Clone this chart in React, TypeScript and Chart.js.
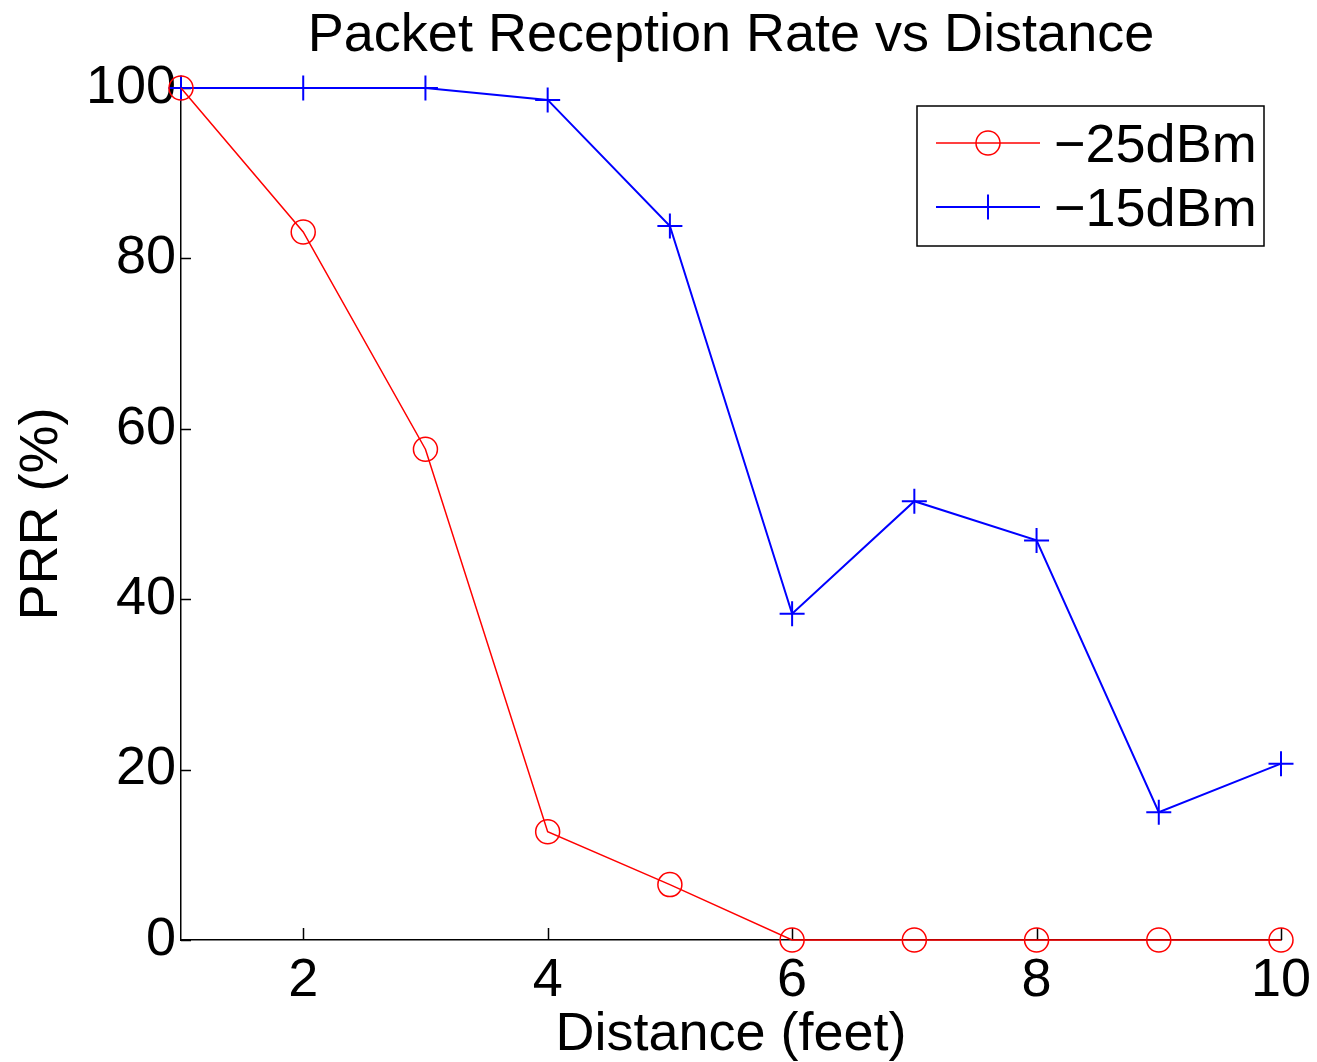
import { useEffect, useRef } from 'react';
import { Chart, registerables } from 'chart.js';

Chart.register(...registerables);

// Distance from the transmitter, in feet
const distances = [1, 2, 3, 4, 5, 6, 7, 8, 9, 10];
// Packet reception rate (%) at each transmit power
const prrMinus25 = [100, 83.1, 57.6, 12.7, 6.5, 0, 0, 0, 0, 0];
const prrMinus15 = [100, 100, 100, 98.6, 83.8, 38.3, 51.5, 46.9, 15.0, 20.7];
const seriesLabels = ['\u221225dBm', '\u221215dBm'];
const seriesColors = ['#ff0000', '#0000ff'];
const xTickValues = [2, 4, 6, 8, 10];
const yTickValues = [0, 20, 40, 60, 80, 100];

const FONT = '"Liberation Sans", Arial, Helvetica, sans-serif';
const FONT_SIZE = 54;

// Inward-pointing tick marks on the left and bottom axes
const innerTicks = {
  id: 'innerTicks',
  beforeDatasetsDraw(chart: any) {
    const { ctx, chartArea, scales } = chart;
    const x = scales.x;
    const y = scales.y;
    ctx.save();
    ctx.strokeStyle = '#000';
    ctx.lineWidth = 1.5;
    ctx.beginPath();
    x.ticks.forEach((t: any) => {
      const px = Math.round(x.getPixelForValue(t.value)) + 0.5;
      ctx.moveTo(px, chartArea.bottom);
      ctx.lineTo(px, chartArea.bottom - 12);
    });
    y.ticks.forEach((t: any) => {
      const py = Math.round(y.getPixelForValue(t.value)) + 0.5;
      ctx.moveTo(chartArea.left, py);
      ctx.lineTo(chartArea.left + 10, py);
    });
    ctx.stroke();
    ctx.restore();
  },
};

// Boxed legend with a line sample and its marker, top-right of the plot
const boxedLegend = {
  id: 'boxedLegend',
  afterDatasetsDraw(chart: any) {
    const { ctx, chartArea } = chart;
    const boxW = 347;
    const boxH = 140;
    const right = chartArea.right - 17;
    const left = right - boxW;
    const top = chartArea.top + 18;
    ctx.save();
    ctx.fillStyle = '#fff';
    ctx.fillRect(left, top, boxW, boxH);
    ctx.strokeStyle = '#000';
    ctx.lineWidth = 1.5;
    ctx.strokeRect(left, top, boxW, boxH);
    chart.data.datasets.forEach((ds: any, i: number) => {
      const rowY = top + 37 + i * 64;
      const x0 = left + 19;
      const x1 = left + 123;
      const mx = (x0 + x1) / 2;
      ctx.strokeStyle = ds.borderColor;
      ctx.lineWidth = ds.borderWidth;
      ctx.beginPath();
      ctx.moveTo(x0, rowY);
      ctx.lineTo(x1, rowY);
      ctx.stroke();
      ctx.lineWidth = ds.pointBorderWidth;
      ctx.beginPath();
      if (ds.pointStyle === 'circle') {
        ctx.arc(mx, rowY, ds.pointRadius, 0, Math.PI * 2);
      } else {
        ctx.moveTo(mx - ds.pointRadius, rowY);
        ctx.lineTo(mx + ds.pointRadius, rowY);
        ctx.moveTo(mx, rowY - ds.pointRadius);
        ctx.lineTo(mx, rowY + ds.pointRadius);
      }
      ctx.stroke();
      ctx.fillStyle = '#000';
      ctx.font = `${FONT_SIZE}px ${FONT}`;
      ctx.textAlign = 'left';
      ctx.textBaseline = 'alphabetic';
      ctx.fillText(ds.label, left + 137, rowY + 19);
    });
    ctx.restore();
  },
};

export default function App() {
  const canvasRef = useRef<HTMLCanvasElement | null>(null);

  useEffect(() => {
    if (!canvasRef.current) return;
    const toPoints = (vals: number[]) => distances.map((d, i) => ({ x: d, y: vals[i] }));
    const chart = new Chart(canvasRef.current, {
      type: 'line',
      data: {
        datasets: [
          {
            label: seriesLabels[0],
            data: toPoints(prrMinus25),
            borderColor: seriesColors[0],
            borderWidth: 1.5,
            pointStyle: 'circle',
            pointRadius: 12,
            pointBorderWidth: 1.5,
            pointBorderColor: seriesColors[0],
            pointBackgroundColor: 'rgba(0,0,0,0)',
            tension: 0,
            clip: false,
          },
          {
            label: seriesLabels[1],
            data: toPoints(prrMinus15),
            borderColor: seriesColors[1],
            borderWidth: 2,
            pointStyle: 'cross',
            pointRadius: 12.5,
            pointBorderWidth: 2,
            pointBorderColor: seriesColors[1],
            pointBackgroundColor: seriesColors[1],
            tension: 0,
            clip: false,
          },
        ],
      },
      options: {
        responsive: false,
        animation: false,
        devicePixelRatio: 1,
        layout: { padding: { left: 0, right: 36, top: 0, bottom: 0 } },
        font: { family: FONT },
        plugins: {
          legend: { display: false },
          tooltip: { enabled: false },
          title: {
            display: true,
            fullSize: false,
            text: 'Packet Reception Rate vs Distance',
            color: '#000',
            font: { family: FONT, size: FONT_SIZE, weight: 'normal', lineHeight: 1.2 },
            padding: { top: 4, bottom: 19.2 },
          },
        },
        scales: {
          x: {
            type: 'linear',
            min: 1,
            max: 10,
            afterBuildTicks: (s: any) => {
              s.ticks = xTickValues.map((v) => ({ value: v }));
            },
            afterFit: (s: any) => {
              s.height = 122;
              s.paddingLeft = 0;
              s.paddingRight = 36;
            },
            grid: { display: true, drawOnChartArea: false, drawTicks: false },
            border: { display: true, color: '#000', width: 1.5 },
            ticks: {
              color: '#000',
              padding: 14,
              font: { family: FONT, size: FONT_SIZE, lineHeight: 1 },
              maxRotation: 0,
            },
            title: {
              display: true,
              text: 'Distance (feet)',
              color: '#000',
              font: { family: FONT, size: FONT_SIZE, lineHeight: 1 },
              padding: { top: 0, bottom: 0 },
            },
          },
          y: {
            type: 'linear',
            min: 0,
            max: 100,
            afterBuildTicks: (s: any) => {
              s.ticks = yTickValues.map((v) => ({ value: v }));
            },
            afterFit: (s: any) => {
              s.width = 181;
            },
            grid: { display: true, drawOnChartArea: false, drawTicks: false },
            border: { display: true, color: '#000', width: 1.5 },
            ticks: {
              color: '#000',
              padding: 5,
              font: { family: FONT, size: FONT_SIZE, lineHeight: 1 },
            },
            title: {
              display: true,
              text: 'PRR (%)',
              color: '#000',
              font: { family: FONT, size: FONT_SIZE, lineHeight: 1 },
              padding: { top: 15, bottom: 15 },
            },
          },
        },
      },
      plugins: [innerTicks, boxedLegend],
    } as any);
    return () => chart.destroy();
  }, []);

  return (
    <div style={{ position: 'absolute', left: 0, top: 0, width: 1317, height: 1062, background: '#fff' }}>
      <canvas ref={canvasRef} width={1317} height={1062} />
    </div>
  );
}
